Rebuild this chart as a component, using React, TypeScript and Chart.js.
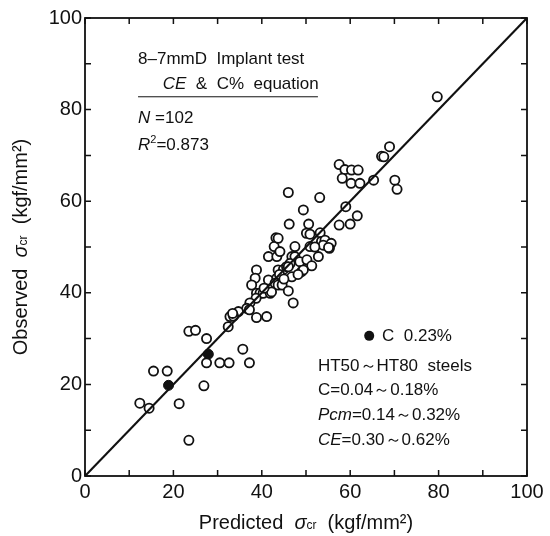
import React, { useEffect, useRef } from "react";
import { Chart, registerables } from "chart.js";

Chart.register(...registerables);

// Hollow circles: predicted (x) vs observed (y)
const predictedOpen = [
  79.7, 68.9, 67.1, 67.6, 57.5, 58.8, 60.3, 61.8, 58.2, 60.2, 62.2, 65.3, 70.1, 70.6, 59.0,
  46.0, 53.1, 49.4, 46.2, 50.6, 50.1, 50.9, 53.2, 57.5, 60.0, 61.6, 43.2, 42.8, 47.5, 50.9,
  53.5, 54.3, 53.9, 55.7, 55.3, 41.5, 43.4, 44.1, 46.8, 47.5, 52.8, 46.4, 48.6, 50.2, 51.3,
  49.0, 49.4, 38.8, 43.7, 44.9, 45.6, 46.8, 38.5, 41.5, 43.4, 43.0, 37.7, 43.7, 44.6, 38.8,
  39.6, 40.3, 41.9, 42.2, 46.0, 38.7, 37.3, 47.1, 36.6, 34.7, 32.8, 33.6, 32.4, 38.8, 41.1,
  23.5, 25.0, 27.5, 15.5, 18.6, 27.5, 30.5, 32.6, 35.7, 37.2, 26.9, 12.4, 14.5, 21.3, 23.5,
  44.0, 46.0, 37.2, 33.4, 45.0, 40.5, 48.2, 52.0, 55.1, 43.7,
];
const observedOpen = [
  82.8, 71.9, 69.8, 69.7, 68.0, 66.9, 66.8, 66.8, 65.0, 63.9, 63.9, 64.6, 64.6, 62.6, 58.8,
  61.9, 60.8, 58.1, 55.0, 55.0, 53.0, 52.8, 53.1, 54.8, 55.0, 56.8, 52.0, 50.1, 50.1, 50.1,
  51.2, 51.5, 50.4, 50.8, 49.7, 47.9, 47.9, 49.0, 47.9, 47.9, 47.9, 46.4, 46.8, 47.2, 45.9,
  44.6, 45.0, 45.0, 45.0, 45.1, 45.7, 43.5, 43.2, 42.8, 43.2, 42.1, 41.7, 41.7, 41.7, 39.9,
  39.9, 39.9, 39.9, 40.2, 40.4, 38.8, 37.8, 37.8, 36.6, 35.9, 34.8, 34.9, 32.6, 34.6, 34.8,
  31.6, 31.8, 30.0, 22.9, 22.9, 24.7, 24.7, 24.7, 27.7, 24.7, 19.7, 15.9, 14.8, 15.8, 7.8,
  44.0, 45.7, 36.3, 35.5, 43.0, 41.0, 44.0, 50.0, 49.9, 51.9,
];
// Filled circles: C 0.23%
const predictedFilled = [18.9, 27.9];
const observedFilled = [19.8, 26.6];
// 1:1 line
const lineX = [0, 100];
const lineY = [0, 100];

const axisMin = 0;
const axisMax = 100;
const labelStep = 20;
const minorTicks = [0, 10, 20, 30, 40, 50, 60, 70, 80, 90, 100];

const FONT = "'Liberation Sans', Arial, sans-serif";

type Run = { t: string; italic?: boolean; size: number; dy?: number };

function runsWidth(ctx: CanvasRenderingContext2D, runs: Run[]) {
  let w = 0;
  for (const r of runs) {
    ctx.font = `${r.italic ? "italic " : ""}${r.size}px ${FONT}`;
    w += ctx.measureText(r.t).width;
  }
  return w;
}

function drawRuns(ctx: CanvasRenderingContext2D, runs: Run[], x: number, y: number, align: "left" | "center") {
  const total = runsWidth(ctx, runs);
  let cx = align === "center" ? x - total / 2 : x;
  ctx.textBaseline = "middle";
  ctx.textAlign = "left";
  for (const r of runs) {
    ctx.font = `${r.italic ? "italic " : ""}${r.size}px ${FONT}`;
    ctx.fillText(r.t, cx, y + (r.dy || 0));
    cx += ctx.measureText(r.t).width;
  }
}

const decorPlugin = {
  id: "decor",
  afterDraw(chart: any) {
    const ctx: CanvasRenderingContext2D = chart.ctx;
    const { left, right, top, bottom } = chart.chartArea;
    const xs = chart.scales.x;
    const ys = chart.scales.y;
    ctx.save();
    ctx.strokeStyle = "#111";
    ctx.fillStyle = "#111";
    ctx.lineWidth = 1.8;
    ctx.strokeRect(left, top, right - left, bottom - top);
    // inward ticks on all four sides
    const tl = 6;
    ctx.lineWidth = 1.5;
    ctx.beginPath();
    for (const v of minorTicks) {
      const px = xs.getPixelForValue(v);
      const py = ys.getPixelForValue(v);
      ctx.moveTo(px, bottom);
      ctx.lineTo(px, bottom - tl);
      ctx.moveTo(px, top);
      ctx.lineTo(px, top + tl);
      ctx.moveTo(left, py);
      ctx.lineTo(left + tl, py);
      ctx.moveTo(right, py);
      ctx.lineTo(right - tl, py);
    }
    ctx.stroke();

    const X = (v: number) => xs.getPixelForValue(v);
    const Y = (v: number) => ys.getPixelForValue(v);
    const s = 17;
    // upper-left annotation
    drawRuns(ctx, [{ t: "8–7mmD  Implant test", size: s }], X(12.0), Y(91.0), "left");
    drawRuns(
      ctx,
      [
        { t: "CE", italic: true, size: s },
        { t: "  &  C%  equation", size: s },
      ],
      X(17.6),
      Y(85.6),
      "left"
    );
    ctx.lineWidth = 1;
    ctx.beginPath();
    ctx.moveTo(X(12.0), Y(82.8));
    ctx.lineTo(X(52.7), Y(82.8));
    ctx.stroke();
    drawRuns(
      ctx,
      [
        { t: "N", italic: true, size: s },
        { t: " =102", size: s },
      ],
      X(12.0),
      Y(78.2),
      "left"
    );
    drawRuns(
      ctx,
      [
        { t: "R", italic: true, size: s },
        { t: "2", size: 11, dy: -5 },
        { t: "=0.873", size: s },
      ],
      X(12.0),
      Y(72.3),
      "left"
    );
    // lower-right annotation
    ctx.beginPath();
    ctx.arc(X(64.3), Y(30.6), 5, 0, Math.PI * 2);
    ctx.fill();
    drawRuns(ctx, [{ t: "C  0.23%", size: s }], X(67.2), Y(30.6), "left");
    drawRuns(ctx, [{ t: "HT50～HT80  steels", size: s }], X(52.7), Y(24.0), "left");
    drawRuns(ctx, [{ t: "C=0.04～0.18%", size: s }], X(52.7), Y(18.6), "left");
    drawRuns(
      ctx,
      [
        { t: "Pcm", italic: true, size: s },
        { t: "=0.14～0.32%", size: s },
      ],
      X(52.7),
      Y(13.3),
      "left"
    );
    drawRuns(
      ctx,
      [
        { t: "CE", italic: true, size: s },
        { t: "=0.30～0.62%", size: s },
      ],
      X(52.7),
      Y(7.9),
      "left"
    );

    // axis titles
    const titleRuns = (word: string): Run[] => [
      { t: word + "  ", size: 20 },
      { t: "σ", italic: true, size: 20 },
      { t: "cr", size: 12, dy: 3 },
      { t: "  (kgf/mm²)", size: 20 },
    ];
    drawRuns(ctx, titleRuns("Predicted"), (left + right) / 2, 523, "center");
    ctx.translate(21, (top + bottom) / 2);
    ctx.rotate(-Math.PI / 2);
    drawRuns(ctx, titleRuns("Observed"), 0, 0, "center");
    ctx.restore();
  },
};

export default function App() {
  const ref = useRef<HTMLCanvasElement | null>(null);
  useEffect(() => {
    if (!ref.current) return;
    const open = predictedOpen.map((x, i) => ({ x, y: observedOpen[i] }));
    const filled = predictedFilled.map((x, i) => ({ x, y: observedFilled[i] }));
    const line = lineX.map((x, i) => ({ x, y: lineY[i] }));
    const tickFont = { family: FONT, size: 20 };
    const chart = new Chart(ref.current, {
      type: "scatter",
      data: {
        datasets: [
          {
            type: "line",
            data: line,
            borderColor: "#111",
            borderWidth: 2.2,
            pointRadius: 0,
            fill: false,
          } as any,
          {
            data: open,
            pointRadius: 4.6,
            pointBorderWidth: 1.8,
            pointBorderColor: "#111",
            pointBackgroundColor: "#fff",
          },
          {
            data: filled,
            pointRadius: 5,
            pointBorderWidth: 1,
            pointBorderColor: "#111",
            pointBackgroundColor: "#111",
          },
        ],
      },
      options: {
        responsive: false,
        animation: false,
        layout: { padding: { left: 0, top: 18, right: 23, bottom: 0 } },
        plugins: { legend: { display: false }, tooltip: { enabled: false } },
        scales: {
          x: {
            type: "linear",
            min: axisMin,
            max: axisMax,
            border: { display: false },
            grid: { display: false, drawTicks: false },
            ticks: { stepSize: labelStep, padding: 4, color: "#111", font: tickFont, maxRotation: 0 },
            afterFit: (sc: any) => {
              sc.height = 60;
            },
          },
          y: {
            type: "linear",
            min: axisMin,
            max: axisMax,
            border: { display: false },
            grid: { display: false, drawTicks: false },
            ticks: { stepSize: labelStep, padding: 3, color: "#111", font: tickFont },
            afterFit: (sc: any) => {
              sc.width = 85;
            },
          },
        },
      } as any,
      plugins: [decorPlugin],
    });
    return () => chart.destroy();
  }, []);
  return (
    <div style={{ position: "absolute", left: 0, top: 0, width: 550, height: 536, background: "#fff" }}>
      <canvas ref={ref} width={550} height={536} />
    </div>
  );
}
